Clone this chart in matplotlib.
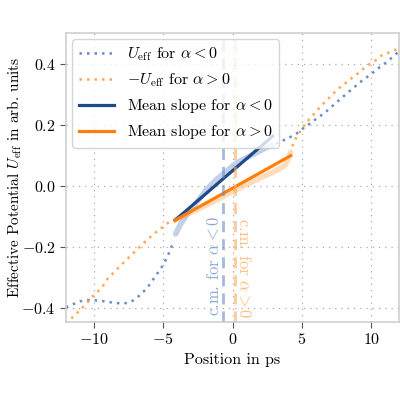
import matplotlib
matplotlib.use("Agg")
import matplotlib.pyplot as plt
import numpy as np

plt.rcParams['font.family'] = 'serif'
plt.rcParams['font.serif'] = ['cmr10']
plt.rcParams['mathtext.fontset'] = 'cm'
plt.rcParams['axes.formatter.use_mathtext'] = True
plt.rcParams['font.size'] = 11.5

# effective potential for alpha < 0
x_neg = np.array([-12, -11.5, -11.05, -10.57, -10.1, -9.5, -9.07, -8.6, -8.12, -7.64,
                  -7.17, -6.8, -6.4, -6.05, -5.74, -5.45, -5.14, -4.9, -4.66, -4.5,
                  -4.3, -4.1, -3.8, -3.3, -2.6, -1.88, -1.17, -0.45, 0.26, 0.98,
                  1.69, 2.4, 2.9, 3.12, 3.64, 4.1, 4.59, 4.98, 5.38, 5.8,
                  6.21, 6.64, 7.0, 7.45, 7.88, 8.29, 8.71, 9.14, 9.55, 9.98,
                  10.38, 10.79, 11.2, 11.7, 12])
u_neg = np.array([-0.398, -0.388, -0.379, -0.374, -0.374, -0.377, -0.379, -0.383, -0.385, -0.384,
                  -0.376, -0.363, -0.346, -0.328, -0.308, -0.289, -0.269, -0.250, -0.230, -0.21,
                  -0.19, -0.158, -0.13, -0.095, -0.055, -0.013, 0.020, 0.047, 0.074, 0.091,
                  0.107, 0.124, 0.133, 0.138, 0.148, 0.158, 0.170, 0.184, 0.197, 0.211,
                  0.225, 0.238, 0.253, 0.271, 0.288, 0.304, 0.320, 0.337, 0.351, 0.365,
                  0.380, 0.394, 0.408, 0.428, 0.44])

# minus effective potential for alpha > 0
x_pos = np.array([-12, -11.6, -11.21, -10.86, -10.5, -10.21, -9.86, -9.45, -8.98, -8.6,
                  -8.26, -7.88, -7.52, -7.16, -6.84, -6.45, -6.12, -5.74, -5.41, -5.02,
                  -4.66, -4.3, -4.1, -3.07, -2.12, -1.0, 0.0, 1.0, 2.0, 2.9,
                  3.4, 3.8, 4.0, 4.19, 4.3, 4.45, 4.64, 4.88, 5.12, 5.4, 5.72, 6.05,
                  6.36, 6.71, 7.07, 7.43, 7.84, 8.27, 8.67, 9.1, 9.46, 9.9,
                  10.34, 10.73, 11.1, 11.5, 12])
u_pos = np.array([-0.452, -0.434, -0.417, -0.401, -0.385, -0.368, -0.352, -0.336, -0.303, -0.286,
                  -0.270, -0.253, -0.237, -0.221, -0.207, -0.190, -0.175, -0.161, -0.148, -0.135,
                  -0.122, -0.113, -0.112, -0.089, -0.068, -0.043, -0.019, 0.004, 0.026, 0.044,
                  0.056, 0.068, 0.085, 0.110, 0.129, 0.145, 0.162, 0.178, 0.194, 0.211, 0.227, 0.244,
                  0.26, 0.276, 0.292, 0.309, 0.326, 0.340, 0.355, 0.370, 0.384, 0.399,
                  0.411, 0.426, 0.433, 0.44, 0.45])

# fit ranges, mean slopes and centres of mass
fit_neg = (-4.14, 2.9)
fit_pos = (-4.14, 4.19)
slope_neg, icpt_neg = 0.0391, 0.049
slope_pos, icpt_pos = 0.0254, -0.008
cm_neg = -0.65
cm_pos = 0.2

c_blue = '#6a8cc7'
c_dblue = '#1f4a8a'
c_orange = '#ffa955'
c_dorange = '#ff7f0e'

fig = plt.figure(figsize=(4, 4), dpi=100)
ax = fig.add_axes([0.165, 0.195, 0.8325, 0.7225])

# dotted curves outside the fit range, light thick curve inside
for x, u, (a, b), c, lab in [(x_neg, u_neg, fit_neg, c_blue, r'$U_\mathrm{eff}$ for $\alpha < 0$'),
                             (x_pos, u_pos, fit_pos, c_orange, r'$-U_\mathrm{eff}$ for $\alpha > 0$')]:
    lo = x < a
    hi = x > b
    inside = ~lo & ~hi
    ax.plot(x[lo], u[lo], ls=(0, (1, 2)), lw=1.8, color=c, label=lab)
    ax.plot(x[hi], u[hi], ls=(0, (1, 2)), lw=1.8, color=c)
    ax.plot(x[inside], u[inside], lw=4, color=c, alpha=0.4, solid_capstyle='round')

xs = np.array(fit_neg)
ax.plot(xs, slope_neg * xs + icpt_neg, lw=2.3, color=c_dblue, label=r'Mean slope for $\alpha < 0$')
xs = np.array(fit_pos)
ax.plot(xs, slope_pos * xs + icpt_pos, lw=2.3, color=c_dorange, label=r'Mean slope for $\alpha > 0$')

ax.axvline(cm_neg, ls=(0, (4, 2.5)), lw=2, color=c_blue, alpha=0.6)
ax.axvline(cm_pos, ls=(0, (4, 2.5)), lw=2, color=c_orange, alpha=0.6)
ax.text(cm_neg - 0.1, -0.425, r'c.m. for $\alpha < 0$', rotation=90, ha='right', va='bottom',
        color=c_blue, alpha=0.75, fontsize=12)
ax.text(cm_pos + 0.1, -0.435, r'c.m. for $\alpha > 0$', rotation=-90, ha='left', va='bottom',
        color=c_orange, alpha=0.75, fontsize=12)

ax.set_xlim(-12, 12)
ax.set_ylim(-0.446, 0.5)
ax.set_xticks([-10, -5, 0, 5, 10])
ax.set_yticks([-0.4, -0.2, 0.0, 0.2, 0.4])
ax.grid(True, ls=(0, (1, 4)), color='#aaaaaa', lw=0.9)
for s in ax.spines.values():
    s.set_color('#cccccc')
    s.set_linewidth(1.1)
ax.tick_params(color='#555555', length=4, labelsize=11.5)
ax.set_xlabel('Position in ps')
ax.set_ylabel(r'Effective Potential $U_\mathrm{eff}$ in arb. units', fontsize=11)
ax.yaxis.set_label_coords(-0.125, 0.5)
ax.legend(loc='upper left', edgecolor='#cccccc', borderaxespad=0.4, handlelength=2.2)

fig.savefig('out.png', dpi=100)
